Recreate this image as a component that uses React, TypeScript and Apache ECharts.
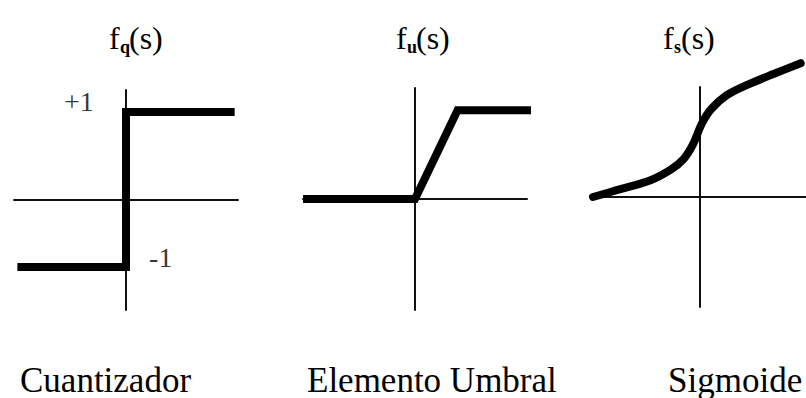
import React, { useEffect, useRef } from "react";
import * as echarts from "echarts";

// Quantizer (step) function (axis units: +1 = upper level)
const QUANT_X = [-0.97, 0, 0, 0.97];
const QUANT_Y = [-0.76, -0.76, 1, 1];

// Threshold element (ramp then saturation)
const THRESH_X = [-1, 0, 0.38, 1.37];
const THRESH_Y = [0, 0, 1, 1];

// Sigmoid curve samples
const SIGMOID_X = [-1, -0.77, -0.46, -0.27, -0.15, -0.06, 0.02, 0.11, 0.26, 0.46, 0.7, 0.95];
const SIGMOID_Y = [0, 0.08, 0.19, 0.31, 0.43, 0.6, 0.83, 1.0, 1.16, 1.28, 1.4, 1.52];

// Texts
const TITLE_SUBS = ["q", "u", "s"];
const CAPTIONS = ["Cuantizador", "Elemento Umbral", "Sigmoide"];
const LEVEL_LABELS = ["+1", "-1"];

const FONT = "Liberation Serif";

// layout (pixels)
const GRIDS = [
  { left: 14, top: 90, width: 224, height: 220 },
  { left: 303, top: 88, width: 224, height: 222 },
  { left: 593, top: 87, width: 218, height: 220 },
];
const TITLE_X = [109, 396, 663];
const CAPTION_X = [20, 307, 668];

function zip(xs: number[], ys: number[]) {
  return xs.map((x, i) => [x, ys[i]]);
}

export default function App() {
  const ref = useRef<HTMLDivElement>(null);
  useEffect(() => {
    if (!ref.current) return;
    const chart = echarts.init(ref.current, null, { renderer: "svg" });

    const axisLine = { onZero: true, lineStyle: { color: "#111", width: 2 } };
    const xAxis = GRIDS.map((_, i) => ({
      type: "value",
      gridIndex: i,
      min: -1,
      max: 1,
      axisLine,
      axisTick: { show: false },
      axisLabel: { show: false },
      splitLine: { show: false },
    }));
    const yAxis = GRIDS.map((_, i) => ({
      type: "value",
      gridIndex: i,
      min: -1.25,
      max: 1.25,
      axisLine,
      axisTick: { show: false },
      axisLabel: { show: false },
      splitLine: { show: false },
    }));

    const thick = { color: "#000", width: 8, join: "miter", cap: "butt" };
    const series: any[] = [
      {
        type: "line",
        xAxisIndex: 0,
        yAxisIndex: 0,
        data: zip(QUANT_X, QUANT_Y),
        symbol: "none",
        clip: false,
        lineStyle: thick,
      },
      {
        type: "line",
        xAxisIndex: 1,
        yAxisIndex: 1,
        data: zip(THRESH_X, THRESH_Y),
        symbol: "none",
        clip: false,
        lineStyle: thick,
      },
      {
        type: "line",
        xAxisIndex: 2,
        yAxisIndex: 2,
        data: zip(SIGMOID_X, SIGMOID_Y),
        symbol: "none",
        smooth: 0.35,
        clip: false,
        lineStyle: { color: "#000", width: 8, cap: "round", join: "round" },
      },
      {
        // level labels +1 / -1 placed next to the steps
        type: "scatter",
        xAxisIndex: 0,
        yAxisIndex: 0,
        symbolSize: 0,
        silent: true,
        data: [
          { value: [-0.42, QUANT_Y[2] + 0.12], name: LEVEL_LABELS[0] },
          { value: [0.31, QUANT_Y[0] + 0.11], name: LEVEL_LABELS[1] },
        ],
        label: {
          show: true,
          position: "inside",
          formatter: (p: any) => p.name,
          fontFamily: FONT,
          fontSize: 28,
          color: "#000",
        },
      },
    ];

    const graphic: any[] = [];
    TITLE_SUBS.forEach((sub, i) => {
      const x0 = TITLE_X[i];
      graphic.push({
        type: "text",
        x: x0,
        y: 38,
        style: { text: "f", fontFamily: FONT, fontSize: 32, fill: "#000", align: "left", verticalAlign: "middle" },
      });
      graphic.push({
        type: "text",
        x: x0 + 11,
        y: 47,
        style: { text: sub, fontFamily: FONT, fontSize: 18, fontWeight: "bold", fill: "#000", align: "left", verticalAlign: "middle" },
      });
      graphic.push({
        type: "text",
        x: x0 + (sub === "s" ? 18 : 20),
        y: 38,
        style: { text: "(s)", fontFamily: FONT, fontSize: 32, fill: "#000", align: "left", verticalAlign: "middle" },
      });
    });
    CAPTIONS.forEach((c, i) => {
      graphic.push({
        type: "text",
        x: CAPTION_X[i],
        y: 380,
        style: { text: c, fontFamily: FONT, fontSize: 35, fill: "#000", align: "left", verticalAlign: "middle" },
      });
    });

    chart.setOption({
      animation: false,
      backgroundColor: "#fff",
      grid: GRIDS.map((g) => ({ ...g, containLabel: false })),
      xAxis,
      yAxis,
      series,
      graphic,
    });
    return () => chart.dispose();
  }, []);
  return (
    <div
      ref={ref}
      style={{ position: "fixed", left: 0, top: 0, width: 806, height: 398, background: "#fff" }}
    />
  );
}
